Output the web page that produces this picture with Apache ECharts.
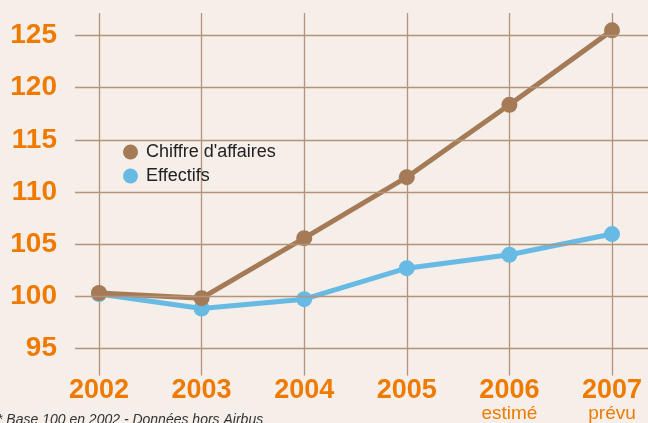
<!DOCTYPE html>
<html>
<head>
<meta charset="utf-8">
<script src="https://cdn.jsdelivr.net/npm/echarts@6/dist/echarts.min.js"></script>
<style>
  html, body { margin: 0; padding: 0; background: #f5eee9; }
  #myChart { width: 648px; height: 423px; }
</style>
</head>
<body>
<div id="myChart"></div>
<script>
    // données (base 100 en 2002)
    var years = ['2002', '2003', '2004', '2005', '2006', '2007'];
    var yearNotes = ['', '', '', '', 'estimé', 'prévu'];
    var chiffreAffaires = [100.1, 99.6, 105.4, 111.3, 118.3, 125.5];
    var effectifs = [100, 98.6, 99.5, 102.5, 103.8, 105.8];
    var yTicks = [95, 100, 105, 110, 115, 120, 125];

    var orange = '#ef7a00';
    var brown = '#a47b56';
    var blue = '#66bae4';
    var gridColor = '#b4937a';

    var myChart = echarts.init(document.getElementById('myChart'));

    myChart.setOption({
        backgroundColor: '#f5eee9',
        animation: false,
        textStyle: { fontFamily: 'Liberation Sans' },
        legend: {
            orient: 'vertical',
            left: 123,
            top: 143,
            padding: 0,
            icon: 'circle',
            itemWidth: 15,
            itemHeight: 15,
            itemGap: 6,
            textStyle: { fontSize: 18, color: '#222', lineHeight: 18, padding: [0, 0, 0, 3] },
            data: ['Chiffre d\'affaires', 'Effectifs']
        },
        grid: [
            { left: 99, right: 36, top: 13, bottom: 45 },
            { left: 75, right: 0, top: 13, bottom: 45 }
        ],
        xAxis: [
            {
                type: 'category',
                gridIndex: 0,
                boundaryGap: false,
                data: years,
                axisLine: { show: false },
                axisTick: { show: false },
                splitLine: { show: true, lineStyle: { color: gridColor, width: 1.3 } },
                axisLabel: {
                    margin: 2,
                    formatter: function (v, i) {
                        return yearNotes[i] ? '{y|' + v + '}\n{s|' + yearNotes[i] + '}' : '{y|' + v + '}';
                    },
                    rich: {
                        y: { fontSize: 27, fontWeight: 'bold', color: orange, lineHeight: 27, fontFamily: 'Liberation Sans' },
                        s: { fontSize: 19, color: orange, lineHeight: 18, fontFamily: 'Liberation Sans' }
                    }
                }
            },
            { type: 'value', gridIndex: 1, min: 0, max: 1, show: false }
        ],
        yAxis: [
            {
                type: 'value',
                gridIndex: 0,
                min: 92.12,
                max: 127.18,
                axisLine: { show: false },
                axisTick: { show: false },
                axisLabel: { show: false },
                splitLine: { show: false }
            },
            {
                type: 'value',
                gridIndex: 1,
                min: 92.12,
                max: 127.18,
                show: false,
                splitLine: { show: false }
            }
        ],
        series: [
            {
                // lignes horizontales + graduations
                type: 'line',
                xAxisIndex: 1,
                yAxisIndex: 1,
                data: [],
                silent: true,
                z: 1,
                markLine: {
                    silent: true,
                    symbol: 'none',
                    lineStyle: { color: gridColor, width: 1.3, type: 'solid' },
                    label: {
                        position: 'start',
                        distance: 18,
                        color: orange,
                        fontSize: 28,
                        fontWeight: 'bold',
                        fontFamily: 'Liberation Sans',
                        formatter: function (p) { return p.value; }
                    },
                    data: yTicks.map(function (t) { return { yAxis: t }; })
                }
            },
            {
                name: 'Effectifs',
                type: 'line',
                data: effectifs,
                symbol: 'circle',
                symbolSize: 16,
                z: 3,
                itemStyle: { color: blue },
                lineStyle: { color: blue, width: 5 }
            },
            {
                name: 'Chiffre d\'affaires',
                type: 'line',
                data: chiffreAffaires,
                symbol: 'circle',
                symbolSize: 16,
                z: 4,
                itemStyle: { color: brown },
                lineStyle: { color: brown, width: 5 }
            }
        ],
        graphic: [
            {
                type: 'text',
                left: -3,
                top: 413,
                style: {
                    text: '* Base 100 en 2002 - Données hors Airbus',
                    font: 'italic 14px "Liberation Sans"',
                    fill: '#333'
                }
            }
        ]
    });
</script>
</body>
</html>
